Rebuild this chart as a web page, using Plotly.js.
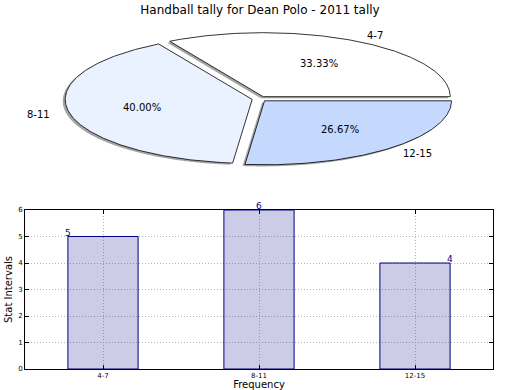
<!DOCTYPE html>
<html><head><meta charset="utf-8">
<script src="https://cdn.plot.ly/plotly-3.0.1.min.js"></script>
<style>html,body{margin:0;padding:0;background:#fff}#chart{width:520px;height:390px}</style>
</head><body><div id="chart"></div>
<script>
// ---- data ----
const categories = ['4-7', '8-11', '12-15'];
const tally = [5, 6, 4];
const sliceColors = ['#FFFFFF', '#EAF1FF', '#C5D9FF'];
const yTickValues = [0, 1, 2, 3, 4, 5, 6];
const titleText = 'Handball tally for Dean Polo - 2011 tally';
const xTitleText = 'Frequency';
const yTitleText = 'Stat Intervals';

// ---- pie (elliptical, exploded, shadowed) drawn on its own axes ----
const FONT = 'DejaVu Sans, Arial, sans-serif';
const EXPLODE = 0.04, LABEL_R = 1.1, PCT_R = 0.6, SHADOW_DX = -0.013, SHADOW_DY = -0.025;
const total = tally.reduce((a, b) => a + b, 0);
const shadowTraces = [], wedgeTraces = [], annotations = [];
let start = 0;
tally.forEach((v, i) => {
  const sweep = 360 * v / total;
  const t1 = start; start += sweep;
  const mid = (t1 + sweep / 2) * Math.PI / 180;
  const cx = EXPLODE * Math.cos(mid), cy = EXPLODE * Math.sin(mid);
  const xs = [cx], ys = [cy];
  const n = Math.ceil(sweep * 2);
  for (let k = 0; k <= n; k++) {
    const a = (t1 + sweep * k / n) * Math.PI / 180;
    xs.push(cx + Math.cos(a)); ys.push(cy + Math.sin(a));
  }
  xs.push(cx); ys.push(cy);
  shadowTraces.push({type: 'scatter', xaxis: 'x2', yaxis: 'y2', mode: 'none', fill: 'toself',
    x: xs.map(x => x + SHADOW_DX), y: ys.map(y => y + SHADOW_DY),
    fillcolor: 'rgba(90,90,90,0.55)', hoverinfo: 'skip', showlegend: false});
  wedgeTraces.push({type: 'scatter', xaxis: 'x2', yaxis: 'y2', mode: 'lines', fill: 'toself',
    x: xs, y: ys, fillcolor: sliceColors[i], line: {color: '#000', width: 0.8},
    hoverinfo: 'skip', showlegend: false});
  const lx = cx + LABEL_R * Math.cos(mid), ly = cy + LABEL_R * Math.sin(mid);
  annotations.push({xref: 'x2', yref: 'y2', x: lx, y: ly, text: categories[i], showarrow: false,
    xanchor: lx > 0 ? 'left' : 'right', yanchor: 'middle', borderpad: 0,
    font: {family: FONT, size: 10, color: '#000'}});
  annotations.push({xref: 'x2', yref: 'y2', x: cx + PCT_R * Math.cos(mid), y: cy + PCT_R * Math.sin(mid),
    text: (100 * v / total).toFixed(2) + '%', showarrow: false, xanchor: 'center', yanchor: 'middle',
    font: {family: FONT, size: 10, color: '#000'}});
});

// ---- bars ----
const BAR_W = 0.45;
const xIdx = categories.map((c, i) => i);
const barTrace = {type: 'bar', x: xIdx, y: tally, width: BAR_W, xaxis: 'x', yaxis: 'y',
  marker: {color: 'rgba(0,0,128,0.2)', line: {color: '#000080', width: 1}},
  hoverinfo: 'skip', showlegend: false};
const labelAnchor = [-0.5, 0, 0.5];
tally.forEach((v, i) => {
  annotations.push({xref: 'x', yref: 'y', x: i + labelAnchor[i] * BAR_W, y: v, text: String(v),
    showarrow: false, xanchor: 'center', yanchor: 'bottom', borderpad: 0, yshift: -2,
    font: {family: FONT, size: 9, color: '#000080'}});
});

const gridStyle = {showgrid: true, gridcolor: '#b4b4b4', griddash: '1px,2px', gridwidth: 1};
const layout = {
  width: 520, height: 390, margin: {l: 0, r: 0, t: 0, b: 0},
  paper_bgcolor: '#fff', plot_bgcolor: 'rgba(0,0,0,0)',
  font: {family: FONT, color: '#000'},
  title: {text: titleText, font: {family: FONT, size: 12, color: '#000'},
    x: 0.5, xanchor: 'center', y: 1 - 10 / 390, yanchor: 'middle'},
  xaxis: Object.assign({domain: [25 / 520, 493 / 520], range: [-0.5, 2.5], tickmode: 'array',
    tickvals: xIdx, ticktext: categories, ticks: 'inside', ticklen: 4, tickcolor: '#000',
    showline: true, linecolor: '#000', linewidth: 1, mirror: 'allticks', zeroline: false,
    tickfont: {family: FONT, size: 7}, automargin: false,
    title: {text: xTitleText, font: {family: FONT, size: 10}, standoff: 10}}, gridStyle),
  yaxis: Object.assign({domain: [1 - 369 / 390, 1 - 210 / 390], range: [0, 6], tickmode: 'array',
    tickvals: yTickValues, ticks: 'inside', ticklen: 4, tickcolor: '#000',
    showline: true, linecolor: '#000', linewidth: 1, mirror: 'allticks', zeroline: false,
    tickfont: {family: FONT, size: 7}, automargin: false,
    title: {text: yTitleText, font: {family: FONT, size: 10}, standoff: 3}}, gridStyle),
  xaxis2: {domain: [0, 1], range: [-259.5 / 187, 260.5 / 187], visible: false, fixedrange: true},
  yaxis2: {domain: [0, 1], range: [-291.1 / 64, 98.9 / 64], visible: false, fixedrange: true},
  annotations: annotations
};
Plotly.newPlot('chart', [barTrace].concat(shadowTraces, wedgeTraces), layout,
  {displayModeBar: false, staticPlot: true});
</script>
</body></html>
